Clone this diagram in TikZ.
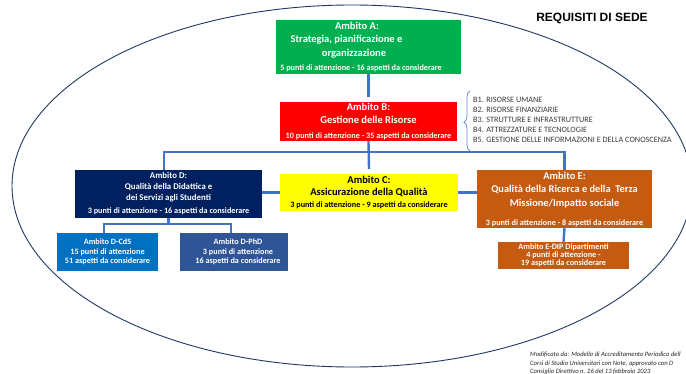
\documentclass[tikz,border=0pt]{standalone}
\usepackage{fontspec}
\setmainfont{Carlito}
\newfontfamily\arialfont{Liberation Sans}
\usetikzlibrary{decorations.pathreplacing}
\definecolor{cA}{HTML}{00B050}
\definecolor{cB}{HTML}{FF0000}
\definecolor{cC}{HTML}{FFFF00}
\definecolor{cD}{HTML}{002060}
\definecolor{cE}{HTML}{C55A11}
\definecolor{cCdS}{HTML}{0070C0}
\definecolor{cPhD}{HTML}{2F5597}
\definecolor{connblue}{HTML}{4472C4}
\definecolor{ellcol}{HTML}{1F3864}
\definecolor{bracecol}{HTML}{6F8FCF}
\definecolor{listgray}{HTML}{3A3A3A}
\newcommand\myfs[2]{\fontsize{#1}{#2}\selectfont}
\begin{document}
\begin{tikzpicture}[x=1pt,y=-1pt,
  box/.style={rectangle, inner sep=0pt, align=center, text=white, font=\bfseries},
  conn/.style={draw=connblue, line width=2.4pt},
  bracestyle/.style={draw=bracecol, line width=0.8pt, decorate,
     decoration={brace, amplitude=6pt, aspect=0.48}},
  ellstyle/.style={draw=ellcol, line width=0.9pt}
]
\useasboundingbox (0,0) rectangle (686,374);
\fill[white] (0,0) rectangle (686,374);

% outer ellipse
\draw[ellstyle] (352,186) ellipse [x radius=340pt, y radius=181pt];

% title
\node[font=\arialfont\bfseries\myfs{12}{14}, inner sep=0pt] (title) at (592,18) {REQUISITI DI SEDE};

% boxes
\node[box, fill=cA, minimum width=185pt, minimum height=54pt, font=\bfseries\myfs{10.5}{13.5}] (A) at (368.5,47)
  {Ambito A:\kern23pt\\Strategia, pianificazione e\kern44pt\\organizzazione\kern29pt\\[1pt]{\myfs{8.2}{9}5 punti di attenzione - 16 aspetti da considerare}\kern15pt};

\node[box, fill=cB, minimum width=177pt, minimum height=39pt, font=\bfseries\myfs{10.5}{13}] (B) at (368.5,121.5)
  {Ambito B:\\Gestione delle Risorse\\[1.5pt]{\myfs{8.2}{9}10 punti di attenzione - 35 aspetti da considerare}};

\node[box, fill=cC, text=black, minimum width=178pt, minimum height=37pt, font=\bfseries\myfs{10.5}{12.5}] (C) at (369,192.5)
  {Ambito C:\\Assicurazione della Qualità\\[-0.5pt]{\myfs{8.2}{9}3 punti di attenzione - 9 aspetti da considerare}};

\node[box, fill=cD, minimum width=187pt, minimum height=48pt, font=\bfseries\myfs{8.8}{11}] (D) at (168.5,194)
  {Ambito D:\\Qualità della Didattica e\\dei Servizi agli Studenti\\[2pt]{\myfs{8.2}{9}3 punti di attenzione - 16 aspetti da considerare}};

\node[box, fill=cE, minimum width=175pt, minimum height=58pt, font=\bfseries\myfs{10.4}{13.5}] (E) at (564.5,199)
  {Ambito E:\\Qualità della Ricerca e della\ \ Terza\\Missione/Impatto sociale\\[5.5pt]{\myfs{8.2}{9}3 punti di attenzione - 8 aspetti da considerare}};

\node[box, fill=cCdS, minimum width=101pt, minimum height=38pt, font=\bfseries\myfs{8.2}{9.5}] (CdS) at (107.5,252)
  {Ambito D-CdS\\15 punti di attenzione\\51 aspetti da considerare};

\node[box, fill=cPhD, minimum width=108pt, minimum height=38pt, font=\bfseries\myfs{8.2}{9.5}] (PhD) at (234,252)
  {\kern8pt Ambito D-PhD\\\kern8pt 3 punti di attenzione\\\kern8pt 16 aspetti da considerare};

\node[box, fill=cE, minimum width=131pt, minimum height=27pt, font=\bfseries\myfs{8.2}{8}] (EDIP) at (563.5,255.5)
  {Ambito E-DIP Dipartimenti\\4 punti di attenzione -\\19 aspetti da considerare};

% list of B sub-areas
\node[anchor=north west, align=left, inner sep=0pt, text=listgray, font=\myfs{8.2}{10}] (blist) at (473,97)
  {B1. RISORSE UMANE\\B2. RISORSE FINANZIARIE\\B3. STRUTTURE E INFRASTRUTTURE\\B4. ATTREZZATURE E TECNOLOGIE\\B5. GESTIONE DELLE INFORMAZIONI E DELLA CONOSCENZA};
\coordinate (brtop) at (470,91);
\coordinate (brbot) at (470,151);
\draw[bracestyle] (brbot) -- (brtop);

% connectors
\coordinate (bus) at (369,152);
\coordinate (dbus) at (168.5,224);
\draw[conn] (A.south) -- ([yshift=5pt]B.north);
\draw[conn] (B.south) -- ([yshift=5pt]C.north);
\draw[conn] ([xshift=-4.5pt]D.north) |- (bus) -| (E.north);
\draw[conn] (C.west -| D.east) -- (C.west);
\draw[conn] (C.east) -- (C.east -| E.west);
\draw[conn] (D.south) -- (dbus);
\draw[conn] ([xshift=-3.5pt]CdS.north) |- (dbus) -| ([xshift=-3pt]PhD.north);
\draw[conn] (E.south) -- (EDIP.north);

% source note
\node[anchor=north west, align=left, inner sep=0pt, text=black!85, font=\itshape\myfs{6.6}{8.8}] (note) at (530,351.5)
  {Modificato da: Modello di Accreditamento Periodico dell\\Corsi di Studio Universitari con Note, approvato con D\\Consiglio Direttivo n. 26 del 13 febbraio 2023};
\end{tikzpicture}
\end{document}
